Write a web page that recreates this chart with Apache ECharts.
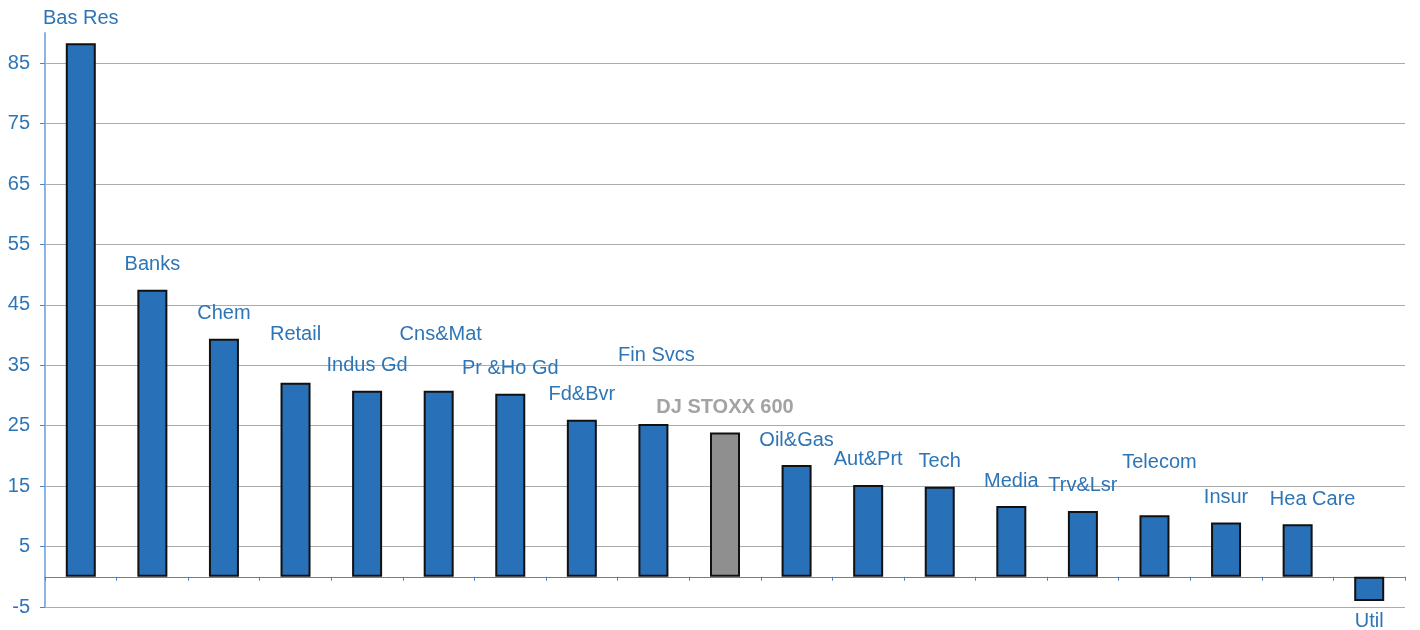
<!DOCTYPE html>
<html>
<head>
<meta charset="utf-8">
<script src="https://cdn.jsdelivr.net/npm/echarts@6/dist/echarts.min.js"></script>
<style>
  html, body { margin: 0; padding: 0; background: #fff; }
  #chart { width: 1420px; height: 630px; }
</style>
</head>
<body>
<div id="chart"></div>
<script>
// sector performance, %
const sectors = ['Bas Res', 'Banks', 'Chem', 'Retail', 'Indus Gd', 'Cns&Mat', 'Pr &Ho Gd', 'Fd&Bvr',
  'Fin Svcs', 'DJ STOXX 600', 'Oil&Gas', 'Aut&Prt', 'Tech', 'Media', 'Trv&Lsr', 'Telecom',
  'Insur', 'Hea Care', 'Util'];
const changes = [88.3, 47.5, 39.4, 32.1, 30.8, 30.8, 30.3, 26.0, 25.3, 23.9, 18.5, 15.2, 14.9,
  11.7, 10.9, 10.2, 9.0, 8.7, -4.0];
const benchmark = 'DJ STOXX 600';
const yTicks = [-5, 5, 15, 25, 35, 45, 55, 65, 75, 85];

// label placement tweaks (px), as in the original layout
const labelLift = [0, 0, 0, 23, 0, 31, 0, 0, 43, 0, 0, 0, 0, 0, 0, 28, 0, 0, 0];
const labelShift = [0, 0, 0, 0, 0, 2, 0, 0, 3, 0, 0, 0, 0, 0, 0, 5, 0, 15, 0];

const blue = '#2870b8';
const textBlue = '#2e75b6';
const font = '"Liberation Sans", Arial, sans-serif';

const data = changes.map((v, i) => {
  const isBench = sectors[i] === benchmark;
  return {
    value: v,
    itemStyle: { color: isBench ? '#8f8f8f' : blue },
    label: {
      position: v < 0 ? 'bottom' : 'top',
      distance: v < 0 ? 11 : 15,
      offset: [labelShift[i], -labelLift[i]],
      color: isBench ? '#a3a3a3' : textBlue,
      fontWeight: isBench ? 'bold' : 'normal'
    }
  };
});

const chart = echarts.init(document.getElementById('chart'));
chart.setOption({
  animation: false,
  grid: { left: 45, right: 15, top: 33, bottom: 23, containLabel: false },
  xAxis: {
    type: 'category',
    data: sectors,
    axisLine: { onZero: true, lineStyle: { color: '#4a86cf', width: 1 } },
    axisTick: { show: true, inside: false, length: 4, interval: 0, lineStyle: { color: '#4a86cf' } },
    axisLabel: { show: false },
    splitLine: { show: false }
  },
  yAxis: {
    type: 'value',
    min: -5,
    max: 90,
    interval: 10,
    axisLine: { show: true, lineStyle: { color: '#8db3e2', width: 2 } },
    axisTick: { show: true, length: 5, customValues: yTicks, lineStyle: { color: '#4a86cf' } },
    axisLabel: {
      customValues: yTicks,
      margin: 15,
      color: textBlue,
      fontSize: 20,
      fontFamily: font
    },
    splitLine: { show: true, lineStyle: { color: '#ababab', width: 1 } }
  },
  series: [{
    type: 'bar',
    data: data,
    barWidth: 30,
    itemStyle: { borderColor: '#111', borderWidth: 2 },
    label: {
      show: true,
      formatter: p => p.name,
      fontSize: 20,
      fontFamily: font
    }
  }]
});
</script>
</body>
</html>
